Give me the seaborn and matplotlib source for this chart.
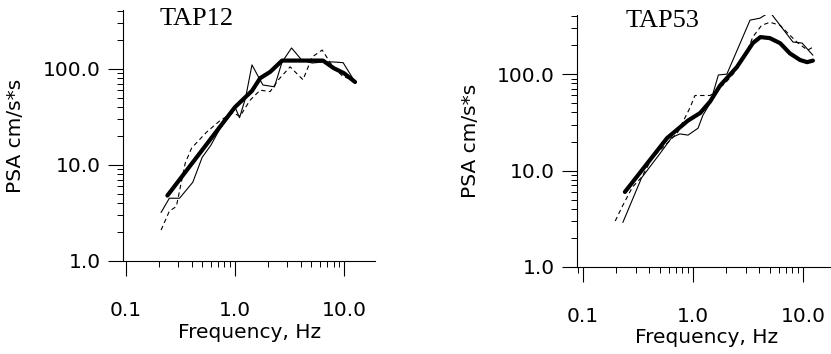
import numpy as np
import pandas as pd
import seaborn as sns
import matplotlib
matplotlib.use("Agg")
import matplotlib.pyplot as plt
from matplotlib.ticker import NullFormatter, LogLocator

# TAP12 - three records (thin solid, thin dashed) and the smooth average (thick)
tap12_thin_f = [0.21, 0.25, 0.31, 0.41, 0.5, 0.6, 0.73, 0.9, 1.0, 1.1, 1.25, 1.43,
                1.8, 2.3, 2.7, 3.3, 4.1, 5.1, 6.4, 8.0, 9.8, 12.6]
tap12_thin_psa = [3.2, 4.5, 4.5, 6.6, 12, 16, 24, 33, 40, 31, 50, 110,
                  68, 65, 118, 165, 123, 115, 118, 118, 116, 73]
tap12_dash_f = [0.21, 0.25, 0.29, 0.35, 0.40, 0.55, 0.73, 0.96, 1.11, 1.37, 1.7,
                2.1, 2.5, 3.2, 4.2, 5.1, 6.3, 7.9, 9.8, 12.0]
tap12_dash_psa = [2.1, 3.3, 3.7, 10.5, 15, 22, 29, 35, 32, 47, 60,
                  58, 77, 105, 77, 133, 157, 105, 83, 77]
tap12_mean_f = [0.24, 1.0, 1.43, 1.7, 2.1, 2.7, 6.4, 8.0, 10.0, 12.6]
tap12_mean_psa = [4.8, 40, 59, 80, 93, 122, 122, 102, 90, 73]

# TAP53
tap53_thin_f = [0.23, 0.34, 0.5, 0.64, 0.76, 0.9, 1.11, 1.23, 1.43, 1.7, 2.03,
                3.3, 4.06, 5.0, 8.1, 9.8, 12.3]
tap53_thin_psa = [2.9, 8.4, 15, 22, 24, 23.3, 27.5, 37.5, 50, 98, 100,
                  363, 380, 440, 215, 210, 157]
tap53_dash_f = [0.196, 0.226, 0.28, 0.34, 0.43, 0.56, 0.72, 0.94, 1.04, 1.43,
                1.95, 2.4, 3.0, 3.5, 4.2, 5.0, 6.2, 7.6, 9.0, 11.0, 12.3]
tap53_dash_psa = [3.0, 4.2, 6.7, 8.5, 13.8, 18.4, 24.5, 45, 60, 60,
                  80, 105, 158, 243, 320, 345, 320, 253, 210, 177, 190]
tap53_mean_f = [0.24, 0.58, 0.9, 1.16, 1.43, 1.76, 2.5, 3.5, 4.1, 5.0, 6.2,
                7.6, 9.4, 10.9, 12.3]
tap53_mean_psa = [6.0, 21.7, 33, 39.5, 52, 76, 118, 210, 242, 236, 209,
                  164, 140, 133, 138]

x_ticks = [0.1, 1.0, 10.0]
x_labels = ["0.1", "1.0", "10.0"]
y_ticks = [1.0, 10.0, 100.0]
y_labels = ["1.0", "10.0", "100.0"]

sns.set_theme(style="ticks")
plt.rcParams["font.family"] = ["DejaVu Sans"]
plt.rcParams["text.color"] = "black"
plt.rcParams["axes.labelcolor"] = "black"
plt.rcParams["xtick.color"] = "black"
plt.rcParams["ytick.color"] = "black"

fig = plt.figure(figsize=(8.31, 3.54), dpi=100)
ax1 = fig.add_axes([123 / 831, 1 - 261 / 354, 252 / 831, 251 / 354])
ax2 = fig.add_axes([577 / 831, 1 - 267 / 354, 253 / 831, 252 / 354])

panels = [
    (ax1, "TAP12", tap12_thin_f, tap12_thin_psa, tap12_dash_f, tap12_dash_psa,
     tap12_mean_f, tap12_mean_psa, (0.094, 19.2), (0.294, 0.94)),
    (ax2, "TAP53", tap53_thin_f, tap53_thin_psa, tap53_dash_f, tap53_dash_psa,
     tap53_mean_f, tap53_mean_psa, (0.088, 17.6), (0.336, 0.952)),
]

for ax, name, tf, tp, df_, dp, mf, mp, xl, tpos in panels:
    ax.set_xscale("log")
    ax.set_yscale("log")
    sns.lineplot(x=tf, y=tp, ax=ax, color="black", lw=0.8, sort=False, estimator=None)
    sns.lineplot(x=df_, y=dp, ax=ax, color="black", lw=0.8, sort=False,
                 estimator=None, linestyle=(0, (4, 3)))
    sns.lineplot(x=mf, y=mp, ax=ax, color="black", lw=3.0, sort=False, estimator=None)
    ax.set_xlim(*xl)
    ax.set_ylim(1.0, 410)
    ax.set_xticks(x_ticks)
    ax.set_xticklabels(x_labels)
    ax.set_yticks(y_ticks)
    ax.set_yticklabels(y_labels)
    ax.xaxis.set_minor_locator(LogLocator(base=10, subs=np.arange(2, 10)))
    ax.yaxis.set_minor_locator(LogLocator(base=10, subs=np.arange(2, 10)))
    ax.xaxis.set_minor_formatter(NullFormatter())
    ax.yaxis.set_minor_formatter(NullFormatter())
    ax.tick_params(which="major", direction="out", length=11, width=0.8,
                   labelsize=14.5, color="black", labelcolor="black")
    ax.tick_params(axis="x", which="major", pad=18)
    ax.tick_params(axis="y", which="major", pad=5)
    ax.tick_params(which="minor", direction="out", length=4, width=0.7, color="black")
    for s in ["top", "right"]:
        ax.spines[s].set_visible(False)
    for s in ["left", "bottom"]:
        ax.spines[s].set_linewidth(0.8)
        ax.spines[s].set_color("black")
    ax.set_xlabel("Frequency, Hz", fontsize=14.5, color="black")
    ax.set_ylabel("PSA cm/s*s", fontsize=14.5, color="black")
    ax.text(tpos[0], tpos[1], name, transform=ax.transAxes, ha="center",
            va="baseline", fontsize=19, color="black",
            family=["Liberation Serif", "DejaVu Serif"])
    ax.set_facecolor("white")

ax1.xaxis.set_label_coords(0.504, -0.247)
ax2.xaxis.set_label_coords(0.514, -0.242)
ax1.yaxis.set_label_coords(-0.389, 0.5)
ax2.yaxis.set_label_coords(-0.383, 0.5)

fig.savefig("out.png", dpi=100, facecolor="white")
